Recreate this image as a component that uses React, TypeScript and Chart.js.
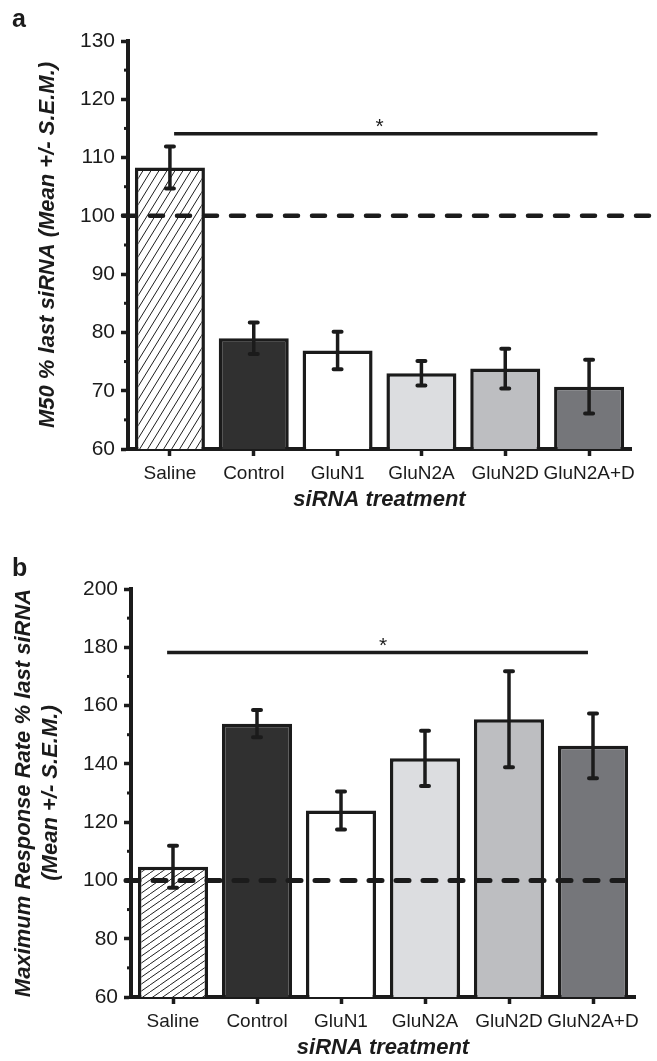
import React, { useEffect, useRef } from 'react';
import { Chart, registerables } from 'chart.js';

Chart.register(...registerables);

const FONT = "'Liberation Sans', Arial, Helvetica, sans-serif";
const INK = '#1b1b1b';
const W = 657;

// ---- data ----
const categories = ['Saline', 'Control', 'GluN1', 'GluN2A', 'GluN2D', 'GluN2A+D'];
const barFills = ['hatch', '#303030', '#ffffff', '#dcdde0', '#bdbec1', '#75767a'];

const m50Mean = [108.3, 79.0, 76.9, 73.0, 73.8, 70.7];
const m50Sem = [3.6, 2.7, 3.2, 2.1, 3.4, 4.6];
const m50Axis = { min: 60, max: 130, step: 10, minor: 5 };
const m50Sig = { from: 0.05, to: 5.1, value: 114.1, starAt: 2.5, label: '*' };

const rateMean = [104.7, 153.8, 124.0, 141.9, 155.3, 146.2];
const rateSem = [7.2, 4.7, 6.5, 9.5, 16.5, 11.1];
const rateAxis = { min: 60, max: 200, step: 20, minor: 10 };
const rateSig = { from: -0.07, to: 4.94, value: 178.2, starAt: 2.5, label: '*' };

const referenceValue = 100;
const xTitle = 'siRNA treatment';
const m50Title = 'M50 % last siRNA (Mean +/- S.E.M.)';
const rateTitle = ['Maximum Response Rate % last siRNA', '(Mean +/- S.E.M.)'];

function makeHatch(w: number, h: number, lw: number) {
  const c = document.createElement('canvas');
  c.width = w;
  c.height = h;
  const g = c.getContext('2d')!;
  g.fillStyle = '#ffffff';
  g.fillRect(0, 0, w, h);
  g.strokeStyle = '#1e1e1e';
  g.lineWidth = lw;
  for (const off of [-w, 0, w]) {
    g.beginPath();
    g.moveTo(off, h);
    g.lineTo(off + w, 0);
    g.stroke();
  }
  return g.createPattern(c, 'repeat')!;
}

type PanelProps = {
  height: number;
  mean: number[];
  sem: number[];
  axis: { min: number; max: number; step: number; minor: number };
  sig: { from: number; to: number; value: number; starAt: number; label: string };
  yTitle: string | string[];
  letter: string;
  letterY: number;
  area: { left: number; right: number; top: number; bottom: number };
  hatch: { w: number; h: number };
  refRight: (chart: any) => number;
  refWidth: number;
  yTitlePad: number;
  xTitlePad: number;
};

function Panel(p: PanelProps) {
  const ref = useRef<HTMLCanvasElement | null>(null);
  useEffect(() => {
    const canvas = ref.current!;
    const pattern = makeHatch(p.hatch.w, p.hatch.h, 1);
    const fills = barFills.map((f) => (f === 'hatch' ? pattern : f));

    const overlay = {
      id: 'overlay',
      afterDatasetsDraw(chart: any) {
        const { ctx, chartArea } = chart;
        const x = chart.scales.x;
        const y = chart.scales.y;
        ctx.save();
        // minor ticks
        ctx.strokeStyle = INK;
        ctx.lineWidth = 3;
        ctx.lineCap = 'butt';
        for (let v = p.axis.min + p.axis.minor; v < p.axis.max; v += p.axis.step) {
          const py = y.getPixelForValue(v);
          ctx.beginPath();
          ctx.moveTo(chartArea.left - 4, py);
          ctx.lineTo(chartArea.left, py);
          ctx.stroke();
        }
        // error bars
        ctx.lineWidth = 3.5;
        for (let i = 0; i < p.mean.length; i++) {
          const px = x.getPixelForValue(i);
          const top = y.getPixelForValue(p.mean[i] + p.sem[i]);
          const bot = y.getPixelForValue(p.mean[i] - p.sem[i]);
          ctx.lineCap = 'butt';
          ctx.beginPath();
          ctx.moveTo(px, top);
          ctx.lineTo(px, bot);
          ctx.stroke();
          ctx.lineCap = 'round';
          ctx.lineWidth = 4;
          ctx.beginPath();
          ctx.moveTo(px - 4, top);
          ctx.lineTo(px + 4, top);
          ctx.moveTo(px - 4, bot);
          ctx.lineTo(px + 4, bot);
          ctx.stroke();
          ctx.lineWidth = 3.5;
        }
        // reference dashed line
        const ry = y.getPixelForValue(referenceValue);
        ctx.setLineDash([13, 14]);
        ctx.lineWidth = p.refWidth;
        ctx.lineCap = 'round';
        ctx.beginPath();
        ctx.moveTo(chartArea.left - 5, ry);
        ctx.lineTo(p.refRight(chart), ry);
        ctx.stroke();
        ctx.setLineDash([]);
        // significance line
        const sy = y.getPixelForValue(p.sig.value);
        ctx.lineWidth = 3.5;
        ctx.lineCap = 'butt';
        ctx.beginPath();
        ctx.moveTo(x.getPixelForValue(p.sig.from), sy);
        ctx.lineTo(x.getPixelForValue(p.sig.to), sy);
        ctx.stroke();
        ctx.fillStyle = INK;
        ctx.font = `21px ${FONT}`;
        ctx.textAlign = 'center';
        ctx.textBaseline = 'alphabetic';
        ctx.fillText(p.sig.label, x.getPixelForValue(p.sig.starAt), sy - 1);
        // panel letter
        ctx.font = `bold 25px ${FONT}`;
        ctx.textAlign = 'left';
        ctx.fillText(p.letter, 12, p.letterY);
        ctx.restore();
      },
    };

    const chart = new Chart(canvas, {
      type: 'bar',
      data: {
        labels: categories,
        datasets: [
          {
            data: p.mean,
            backgroundColor: fills as any,
            borderColor: INK,
            borderWidth: 3.5,
            borderSkipped: false,
            barPercentage: 0.835,
            categoryPercentage: 1,
          },
        ],
      },
      options: {
        animation: false,
        responsive: false,
        layout: { padding: { left: 0, right: W - p.area.right, top: p.area.top, bottom: 0 } },
        plugins: { legend: { display: false }, tooltip: { enabled: false } },
        scales: {
          x: {
            offset: true,
            grid: {
              display: true,
              drawOnChartArea: false,
              drawTicks: true,
              offset: false,
              tickLength: 7,
              tickWidth: 3.5,
              tickColor: INK,
            },
            border: { display: true, color: INK, width: 4 },
            ticks: { color: INK, font: { family: FONT, size: 19 }, padding: 6, maxRotation: 0, autoSkip: false },
            title: {
              display: true,
              text: xTitle,
              color: INK,
              font: { family: FONT, size: 22, weight: 'bold', style: 'italic' },
              padding: { top: 0, bottom: p.xTitlePad },
            },
            afterFit: (s: any) => {
              s.height = p.height - p.area.bottom;
            },
          } as any,
          y: {
            min: p.axis.min,
            max: p.axis.max,
            ticks: { stepSize: p.axis.step, color: INK, font: { family: FONT, size: 21 }, padding: 6 },
            grid: { drawOnChartArea: false, drawTicks: true, tickLength: 7, tickWidth: 3.5, tickColor: INK },
            border: { display: true, color: INK, width: 4 },
            title: {
              display: true,
              text: p.yTitle,
              color: INK,
              font: { family: FONT, size: 22, weight: 'bold', style: 'italic' },
              padding: { top: p.yTitlePad, bottom: 0 },
            },
            afterFit: (s: any) => {
              s.width = p.area.left;
            },
          } as any,
        },
      },
      plugins: [overlay],
    });
    return () => chart.destroy();
  }, []);
  return <canvas ref={ref} width={W} height={p.height} style={{ display: 'block' }} />;
}

export default function App() {
  return (
    <div style={{ position: 'absolute', left: 0, top: 0, width: W, background: '#fff' }}>
      <Panel
        height={530}
        mean={m50Mean}
        sem={m50Sem}
        axis={m50Axis}
        sig={m50Sig}
        yTitle={m50Title}
        letter="a"
        letterY={27}
        area={{ left: 128, right: 631, top: 41, bottom: 449 }}
        hatch={{ w: 8, h: 13 }}
        refRight={() => W - 2}
        refWidth={4.5}
        yTitlePad={35}
        xTitlePad={17}
      />
      <Panel
        height={531}
        mean={rateMean}
        sem={rateSem}
        axis={rateAxis}
        sig={rateSig}
        yTitle={rateTitle}
        letter="b"
        letterY={46}
        area={{ left: 131, right: 635, top: 59, bottom: 467 }}
        hatch={{ w: 10, h: 7 }}
        refRight={(c: any) => c.chartArea.right + 2}
        refWidth={5}
        yTitlePad={11}
        xTitlePad={0}
      />
    </div>
  );
}
